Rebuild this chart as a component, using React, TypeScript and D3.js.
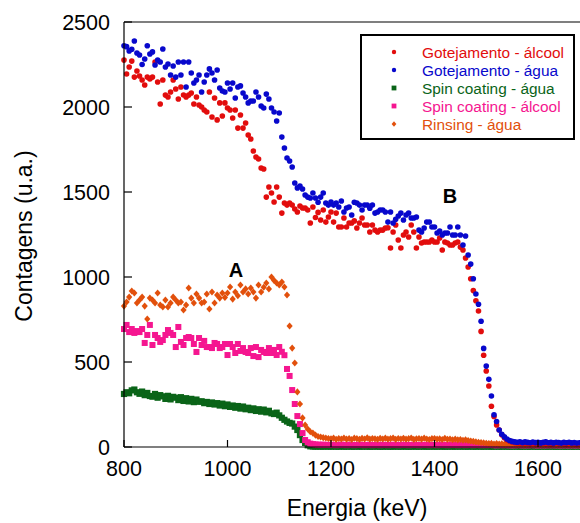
import React from 'react';
import * as d3 from 'd3';

// Energy channels (keV), one every 5 keV from 800 to 1685
const energy = d3.range(800, 1686, 5);

// Gotejamento - álcool
const gotejamentoAlcool = [
  2276, 2194, 2235, 2270, 2176, 2212, 2182, 2159, 2129, 2176,
  2165, 2176, 2265, 2147, 2018, 2159, 2070, 2059, 2088, 2159,
  2106, 2047, 2118, 2071, 2059, 2070, 2082, 2018, 2059, 2012,
  2000, 1982, 1971, 2088, 1941, 2053, 1924, 2024, 1947, 2024,
  1994, 1982, 1935, 1982, 1876, 1953, 1876, 1906, 1835, 1812,
  1741, 1706, 1694, 1641, 1635, 1470, 1529, 1494, 1441, 1529,
  1470, 1376, 1435, 1423, 1435, 1423, 1400, 1382, 1418, 1406,
  1406, 1394, 1318, 1412, 1350, 1380, 1335, 1394, 1323, 1353,
  1382, 1323, 1376, 1294, 1294, 1347, 1294, 1318, 1318, 1330,
  1288, 1318, 1347, 1306, 1306, 1265, 1306, 1276, 1265, 1276,
  1276, 1288, 1290, 1171, 1265, 1306, 1218, 1171, 1247, 1265,
  1235, 1306, 1265, 1171, 1235, 1200, 1206, 1206, 1206, 1218,
  1206, 1206, 1229, 1159, 1206, 1200, 1188, 1188, 1200, 1206,
  1176, 1159, 1112, 1059, 990, 920, 860, 800, 680, 540,
  447, 359, 240, 180, 130, 100, 72, 55, 42, 36,
  30, 26, 24, 22, 25, 21, 23, 20, 22, 19,
  21, 20, 22, 19, 21, 18, 20, 22, 19, 21,
  20, 18, 21, 19, 20, 18, 19, 20,
];

// Gotejamento - água
const gotejamentoAgua = [
  2360, 2355, 2330, 2340, 2388, 2318, 2306, 2250, 2282, 2360,
  2312, 2324, 2247, 2276, 2265, 2341, 2235, 2253, 2188, 2241,
  2176, 2265, 2188, 2265, 2118, 2265, 2200, 2141, 2159, 2188,
  2088, 2147, 2188, 2224, 2200, 2159, 2218, 2112, 2094, 2088,
  2141, 2106, 2141, 2053, 2118, 2124, 2082, 2059, 2024, 2035,
  2035, 2088, 2059, 2006, 1994, 2076, 2047, 1994, 1971, 1918,
  1965, 1823, 1759, 1700, 1682, 1647, 1553, 1524, 1535, 1518,
  1482, 1470, 1465, 1494, 1465, 1440, 1470, 1494, 1435, 1423,
  1441, 1423, 1435, 1412, 1447, 1382, 1406, 1412, 1365, 1440,
  1435, 1423, 1394, 1423, 1423, 1405, 1423, 1376, 1382, 1394,
  1394, 1382, 1323, 1382, 1318, 1340, 1359, 1376, 1335, 1365,
  1376, 1347, 1347, 1353, 1276, 1265, 1288, 1323, 1323, 1294,
  1294, 1259, 1270, 1247, 1259, 1259, 1294, 1247, 1247, 1294,
  1247, 1188, 1241, 1129, 1076, 990, 900, 840, 740, 580,
  476, 398, 300, 190, 150, 100, 75, 60, 47, 38,
  33, 30, 28, 31, 26, 30, 27, 25, 29, 26,
  28, 24, 27, 30, 25, 27, 24, 28, 26, 23,
  27, 25, 28, 24, 26, 23, 25, 24,
];

// Spin coating - água
const spinAgua = [
  312, 322, 316, 333, 338, 322, 313, 326, 305, 318,
  300, 296, 312, 290, 305, 298, 283, 301, 280, 295,
  290, 276, 293, 271, 287, 268, 283, 264, 279, 266,
  269, 258, 265, 253, 262, 250, 258, 244, 255, 240,
  250, 236, 244, 231, 241, 226, 238, 222, 231, 217,
  227, 212, 222, 208, 220, 204, 213, 198, 194, 202,
  186, 172, 160, 150, 142, 138, 120, 100, 70, 41,
  24, 10, 4, 3, 2, 3, 2, 2, 3, 2,
  2, 3, 2, 2, 3, 2, 2, 3, 2, 2,
  3, 2, 2, 3, 2, 2, 2, 3, 2, 2,
  2, 3, 2, 2, 2, 3, 2, 2, 3, 2,
  2, 2, 3, 2, 2, 3, 2, 2, 2, 3,
  2, 2, 3, 2, 2, 2, 3, 2, 2, 3,
  2, 3, 2, 2, 3, 2, 2, 3, 2, 2,
  3, 2, 2, 2, 3, 2, 2, 3, 2, 2,
  2, 3, 2, 2, 2, 3, 2, 2, 3, 2,
  2, 2, 3, 2, 2, 3, 2, 2, 2, 3,
  2, 2, 3, 2, 2, 3, 2, 2,
];

// Spin coating - álcool
const spinAlcool = [
  694, 718, 676, 694, 671, 682, 676, 694, 612, 659,
  718, 600, 659, 641, 618, 629, 659, 688, 671, 659,
  588, 706, 618, 600, 641, 647, 641, 606, 559, 641,
  600, 624, 588, 588, 582, 612, 606, 582, 588, 606,
  541, 606, 588, 553, 606, 565, 582, 559, 553, 582,
  535, 588, 529, 571, 559, 553, 582, 553, 571, 541,
  588, 560, 540, 459, 418, 335, 253, 182, 135, 82,
  41, 28, 20, 17, 15, 14, 13, 14, 12, 13,
  12, 13, 11, 12, 14, 12, 11, 13, 12, 11,
  12, 13, 12, 11, 12, 13, 11, 12, 12, 11,
  13, 12, 11, 12, 13, 12, 11, 12, 13, 12,
  11, 12, 13, 12, 11, 12, 12, 13, 11, 12,
  12, 11, 13, 12, 12, 11, 12, 13, 12, 11,
  12, 12, 11, 13, 12, 11, 12, 12, 11, 12,
  11, 12, 12, 11, 10, 12, 11, 11, 12, 10,
  11, 10, 12, 11, 10, 11, 10, 11, 12, 10,
  10, 11, 10, 11, 10, 12, 10, 11, 10, 10,
  11, 10, 10, 11, 10, 10, 11, 10,
];

// Rinsing - água
const rinsingAgua = [
  829, 853, 882, 918, 906, 847, 865, 882, 829, 753,
  876, 865, 847, 906, 835, 824, 865, 824, 847, 882,
  865, 847, 853, 806, 835, 935, 876, 847, 900, 876,
  847, 853, 900, 812, 912, 847, 894, 876, 906, 880,
  906, 941, 870, 912, 890, 953, 912, 930, 900, 935,
  912, 876, 953, 912, 940, 965, 930, 1000, 980, 965,
  953, 970, 941, 894, 712, 582, 494, 324, 253, 171,
  129, 106, 90, 82, 70, 62, 59, 55, 53, 50,
  48, 52, 45, 50, 47, 53, 46, 50, 44, 52,
  49, 45, 51, 47, 54, 46, 50, 48, 45, 51,
  47, 52, 46, 49, 53, 45, 50, 47, 51, 46,
  49, 53, 45, 48, 50, 46, 52, 47, 44, 49,
  50, 46, 48, 44, 51, 45, 47, 43, 46, 42,
  44, 40, 42, 38, 35, 33, 30, 28, 26, 24,
  22, 20, 21, 18, 20, 17, 19, 16, 18, 17,
  16, 18, 15, 17, 16, 14, 17, 15, 16, 14,
  15, 17, 14, 16, 15, 13, 16, 14, 15, 13,
  15, 14, 16, 13, 15, 14, 13, 15,
];

const seriesNames = [
  'Gotejamento - álcool',
  'Gotejamento - água',
  'Spin coating - água',
  'Spin coating - álcool',
  'Rinsing - água',
];
const seriesValues = [gotejamentoAlcool, gotejamentoAgua, spinAgua, spinAlcool, rinsingAgua];
const seriesColors = ['#e20d0d', '#0808cc', '#0a6418', '#f51690', '#e2500c'];
const seriesShapes = ['circle', 'circle', 'square', 'square', 'diamond'];
const drawOrder = [2, 3, 4, 0, 1];

const xTicks = [800, 1000, 1200, 1400, 1600];
const yTicks = [0, 500, 1000, 1500, 2000, 2500];

const W = 580;
const H = 523;
const FONT = '"Liberation Sans", Arial, Helvetica, sans-serif';

const x = d3.scaleLinear().domain([800, 1600]).range([124, 538]);
const y = d3.scaleLinear().domain([0, 2500]).range([447, 22]);

function Marker({ shape, cx, cy, color, s }: { shape: string; cx: number; cy: number; color: string; s: number }) {
  if (shape === 'circle') return <circle cx={cx} cy={cy} r={s} fill={color} />;
  if (shape === 'square')
    return <rect x={cx - s} y={cy - s} width={2 * s} height={2 * s} fill={color} />;
  return (
    <path
      d={`M${cx},${cy - s * 1.15}L${cx + s},${cy}L${cx},${cy + s * 1.15}L${cx - s},${cy}Z`}
      fill={color}
    />
  );
}

export default function App() {
  const plotLeft = x(800);
  const plotBottom = y(0);
  const plotTop = y(2500);
  const markerSize = [2.8, 2.8, 3.1, 3.0, 3.1];
  const legendY = [52, 70, 88, 106, 124];

  return (
    <svg
      width={W}
      height={H}
      style={{ position: 'absolute', left: 0, top: 0, background: '#fff' }}
      fontFamily={FONT}
    >
      <rect x={0} y={0} width={W} height={H} fill="#fff" />
      {/* data */}
      <g>
        {drawOrder.map((si) => (
          <g key={si}>
            {seriesValues[si].map((v, i) => (
              <Marker
                key={i}
                shape={seriesShapes[si]}
                cx={x(energy[i])}
                cy={y(v)}
                color={seriesColors[si]}
                s={markerSize[si]}
              />
            ))}
          </g>
        ))}
      </g>
      {/* frame */}
      <line x1={plotLeft} x2={plotLeft} y1={plotTop} y2={plotBottom} stroke="#000" strokeWidth={1.2} />
      <line x1={plotLeft} x2={W} y1={plotBottom} y2={plotBottom} stroke="#000" strokeWidth={1.2} />
      <line x1={plotLeft} x2={W} y1={plotTop} y2={plotTop} stroke="#000" strokeWidth={1.2} />
      {/* y ticks */}
      {yTicks.map((t) => (
        <g key={t}>
          <line x1={plotLeft} x2={plotLeft + 8} y1={y(t)} y2={y(t)} stroke="#000" strokeWidth={1.2} />
          <text x={110} y={y(t)} dy="0.36em" textAnchor="end" fontSize={21.5} fill="#000">
            {t}
          </text>
        </g>
      ))}
      {/* x ticks */}
      {xTicks.map((t) => (
        <g key={t}>
          <line x1={x(t)} x2={x(t)} y1={plotBottom} y2={plotBottom - 7} stroke="#000" strokeWidth={1.2} />
          <text x={x(t)} y={476} textAnchor="middle" fontSize={21.5} fill="#000">
            {t}
          </text>
        </g>
      ))}
      {/* axis titles */}
      <text x={357} y={516} textAnchor="middle" fontSize={23} fill="#000">
        Energia (keV)
      </text>
      <text
        transform={`translate(32,236) rotate(-90)`}
        textAnchor="middle"
        fontSize={23}
        fill="#000"
      >
        Contagens (u.a.)
      </text>
      {/* annotations */}
      <text x={236} y={277} textAnchor="middle" fontSize={20} fontWeight="bold" fill="#000">
        A
      </text>
      <text x={450} y={203} textAnchor="middle" fontSize={20} fontWeight="bold" fill="#000">
        B
      </text>
      {/* legend */}
      <rect x={361} y={35} width={213} height={104} fill="#fff" stroke="#000" strokeWidth={2} />
      {seriesNames.map((name, i) => (
        <g key={name}>
          <Marker
            shape={seriesShapes[i]}
            cx={394}
            cy={legendY[i]}
            color={seriesColors[i]}
            s={seriesShapes[i] === 'circle' ? 2.2 : 2.4}
          />
          <text x={422} y={legendY[i] + 5.5} fontSize={15.4} fill={seriesColors[i]}>
            {name}
          </text>
        </g>
      ))}
    </svg>
  );
}
